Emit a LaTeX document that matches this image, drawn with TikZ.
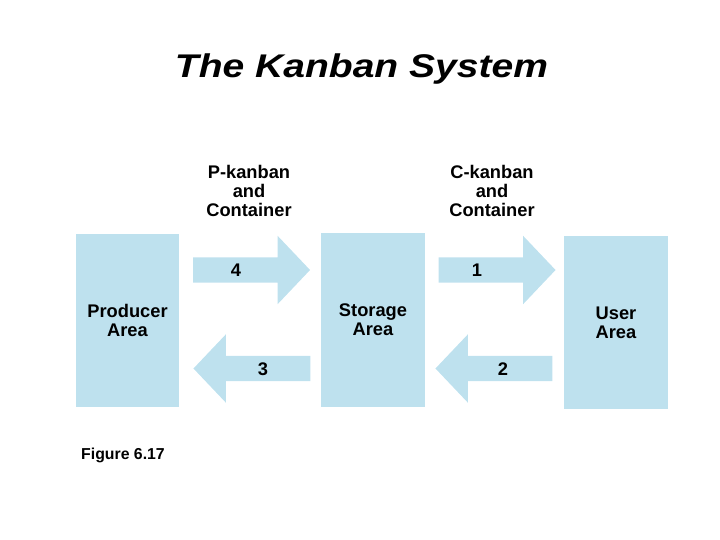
\documentclass[tikz,border=0pt]{standalone}
\usepackage{fontspec}
\setmainfont{Liberation Sans}
\newfontfamily\titlefont{Liberation Sans}[FakeStretch=1.19]
\usetikzlibrary{shapes.arrows}
\definecolor{areablue}{RGB}{190,225,238}

\begin{document}
\begin{tikzpicture}[x=0.03cm, y=-0.03cm,
  area/.style={fill=areablue, minimum width=3.1cm, minimum height=5.2cm, inner sep=0pt, align=center, font=\fontsize{15.6}{16.2}\selectfont\bfseries},
  flow/.style={single arrow, fill=areablue, inner sep=0pt, text height=0.375cm, text depth=0.375cm, minimum height=3.51cm, single arrow head extend=0.645cm, single arrow tip angle=93},
  num/.style={font=\fontsize{15.6}{16.2}\selectfont\bfseries},
  caption/.style={align=center, font=\fontsize{15.6}{16.2}\selectfont\bfseries}]
\useasboundingbox (0,0) rectangle (720,540);
\node[font=\titlefont\fontsize{28}{32}\selectfont\bfseries\itshape] (title) at (361.5,69) {The Kanban System};
\node[area] (producer) at (127.5,320.5) {Producer\\Area};
\node[area] (storage) at (373,320) {Storage\\Area};
\node[area] (user) at (616,322.5) {User\\Area};
\node[flow] (a4) at (245.5,270) {};
\node[flow] (a1) at (491,270) {};
\node[flow, shape border rotate=180] (a3) at (258,368.5) {};
\node[flow, shape border rotate=180] (a2) at (500,368.5) {};
\node[num] (n4) at (236,270) {4};
\node[num] (n1) at (477,270) {1};
\node[num] (n3) at (263,369) {3};
\node[num] (n2) at (503,369) {2};
\node[caption] (pk) at (249,191) {P-kanban\\and\\Container};
\node[caption] (ck) at (492,191) {C-kanban\\and\\Container};
\node[font=\fontsize{13.5}{15}\selectfont\bfseries] (fig) at (123,455) {Figure 6.17};
\end{tikzpicture}
\end{document}
